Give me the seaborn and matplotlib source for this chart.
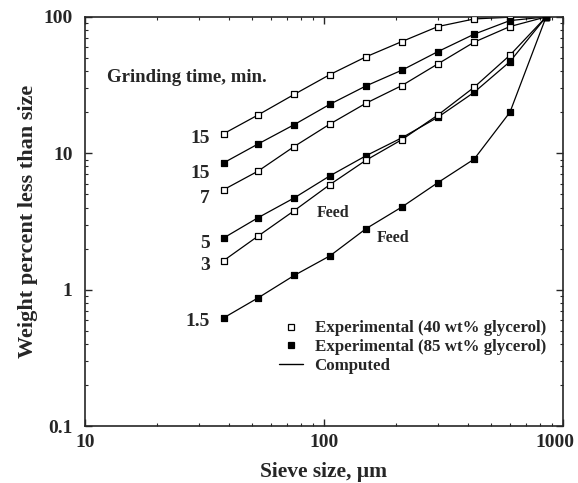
import numpy as np
import pandas as pd
import matplotlib
matplotlib.use("Agg")
import matplotlib.pyplot as plt
from matplotlib.lines import Line2D
import matplotlib.ticker as mticker
import matplotlib.transforms as mtrans
import seaborn as sns

sieve = [38, 53, 75, 106, 150, 212, 300, 425, 600, 850]
open15 = [13.9, 19.1, 27.0, 37.8, 51.0, 66.0, 85.0, 96.6, 99.5, 100]
fill15 = [8.5, 11.7, 16.2, 22.9, 31.2, 40.7, 55.7, 74.7, 94.0, 100]
open7 = [5.4, 7.4, 11.2, 16.4, 23.3, 31.4, 45.3, 65.3, 85.0, 100]
fill5 = [2.39, 3.37, 4.7, 6.84, 9.6, 13.0, 18.4, 28.0, 47.0, 100]
open3 = [1.63, 2.47, 3.79, 5.9, 8.9, 12.6, 19.1, 30.5, 52.4, 100]
fill15b = [0.62, 0.87, 1.27, 1.77, 2.8, 4.04, 6.1, 9.06, 20.0, 100]

series_names = ["15 (40%)", "15 (85%)", "7", "5", "3", "1.5"]
series_vals = [open15, fill15, open7, fill5, open3, fill15b]
series_filled = [False, True, False, True, False, True]
series_labels = ["15", "15", "7", "5", "3", "1.5"]

rows = []
for name, vals, filled in zip(series_names, series_vals, series_filled):
    for s, v in zip(sieve, vals):
        rows.append({"sieve": s, "pct": v, "series": name, "filled": filled})
df = pd.DataFrame(rows)

sns.set_theme(style="ticks")
plt.rcParams["font.family"] = ["Liberation Serif", "DejaVu Serif"]
plt.rcParams["font.weight"] = "bold"

fig = plt.figure(figsize=(5.78, 4.83), dpi=100)
ax = fig.add_axes([0.147, 0.118, 0.827, 0.847])

for name in series_names:
    sub = df[df["series"] == name]
    sns.lineplot(data=sub, x="sieve", y="pct", ax=ax, color="black", lw=0.9,
                 estimator=None, sort=True, legend=False)
for name, filled in zip(series_names, series_filled):
    sub = df[df["series"] == name]
    sns.scatterplot(data=sub, x="sieve", y="pct", ax=ax, marker="s", s=22,
                    facecolor="black" if filled else "white",
                    edgecolor="black", linewidth=0.9, zorder=3, legend=False)

ax.set_xscale("log")
ax.set_yscale("log")
ax.set_xlim(10, 1000)
ax.set_ylim(0.1, 100)
ax.xaxis.set_major_formatter(mticker.FuncFormatter(lambda v, p: f"{v:g}"))
ax.yaxis.set_major_formatter(mticker.FuncFormatter(lambda v, p: f"{v:g}"))
ax.tick_params(which="both", direction="in", top=True, right=True)
ax.tick_params(which="major", length=5, width=1, labelsize=14)
ax.tick_params(axis="y", which="major", pad=9)
ax.tick_params(axis="x", which="major", pad=6)
ax.tick_params(which="minor", length=2.5, width=0.8)
ax.yaxis.set_minor_formatter(mticker.NullFormatter())
ax.xaxis.set_minor_formatter(mticker.NullFormatter())
for sp in ax.spines.values():
    sp.set_linewidth(1.2)

ax.set_xlabel("Sieve size, \u03bcm", fontsize=15.5, fontweight="bold", labelpad=8)
ax.set_ylabel("Weight percent less than size", fontsize=16, fontweight="bold", labelpad=4)

# series labels (pixel offsets from first point)
offsets = [-5, -11, -9, -5, -5, -4]
for lab, vals, off in zip(series_labels, series_vals, offsets):
    ax.annotate(lab, (sieve[0], vals[0]), xytext=(-14, off), textcoords="offset pixels",
                ha="right", va="center", fontsize=14, fontweight="bold")

ax.text(0.046, 0.853, "Grinding time, min.", transform=ax.transAxes, fontsize=13.5,
        fontweight="bold", va="center")
ax.text(0.484, 0.521, "Feed", transform=ax.transAxes, fontsize=11.5, fontweight="bold", va="center")
ax.text(0.61, 0.46, "Feed", transform=ax.transAxes, fontsize=11.5, fontweight="bold", va="center")

handles = [
    Line2D([], [], marker="s", ls="none", mfc="white", mec="black", ms=5, mew=0.9),
    Line2D([], [], marker="s", ls="none", mfc="black", mec="black", ms=5, mew=0.9),
    Line2D([], [], color="black", lw=1),
]
labels = ["Experimental (40 wt% glycerol)", "Experimental (85 wt% glycerol)", "Computed"]
ax.legend(handles, labels, loc="upper left", bbox_to_anchor=(0.406, 0.258), frameon=False,
          prop={"size": 12.2, "weight": "bold"}, handlelength=1.4, handletextpad=0.7,
          labelspacing=0.15, borderaxespad=0, borderpad=0)

# draw once, then nudge the rightmost x tick label inward so it stays on the canvas
fig.canvas.draw()
for tick in ax.xaxis.get_major_ticks():
    if abs(tick.get_loc() - 1000) < 1e-6:
        lab = tick.label1
        lab.set_transform(lab.get_transform() +
                          mtrans.ScaledTranslation(-8 / 100, 0, fig.dpi_scale_trans))

fig.savefig("out.png", dpi=100)
